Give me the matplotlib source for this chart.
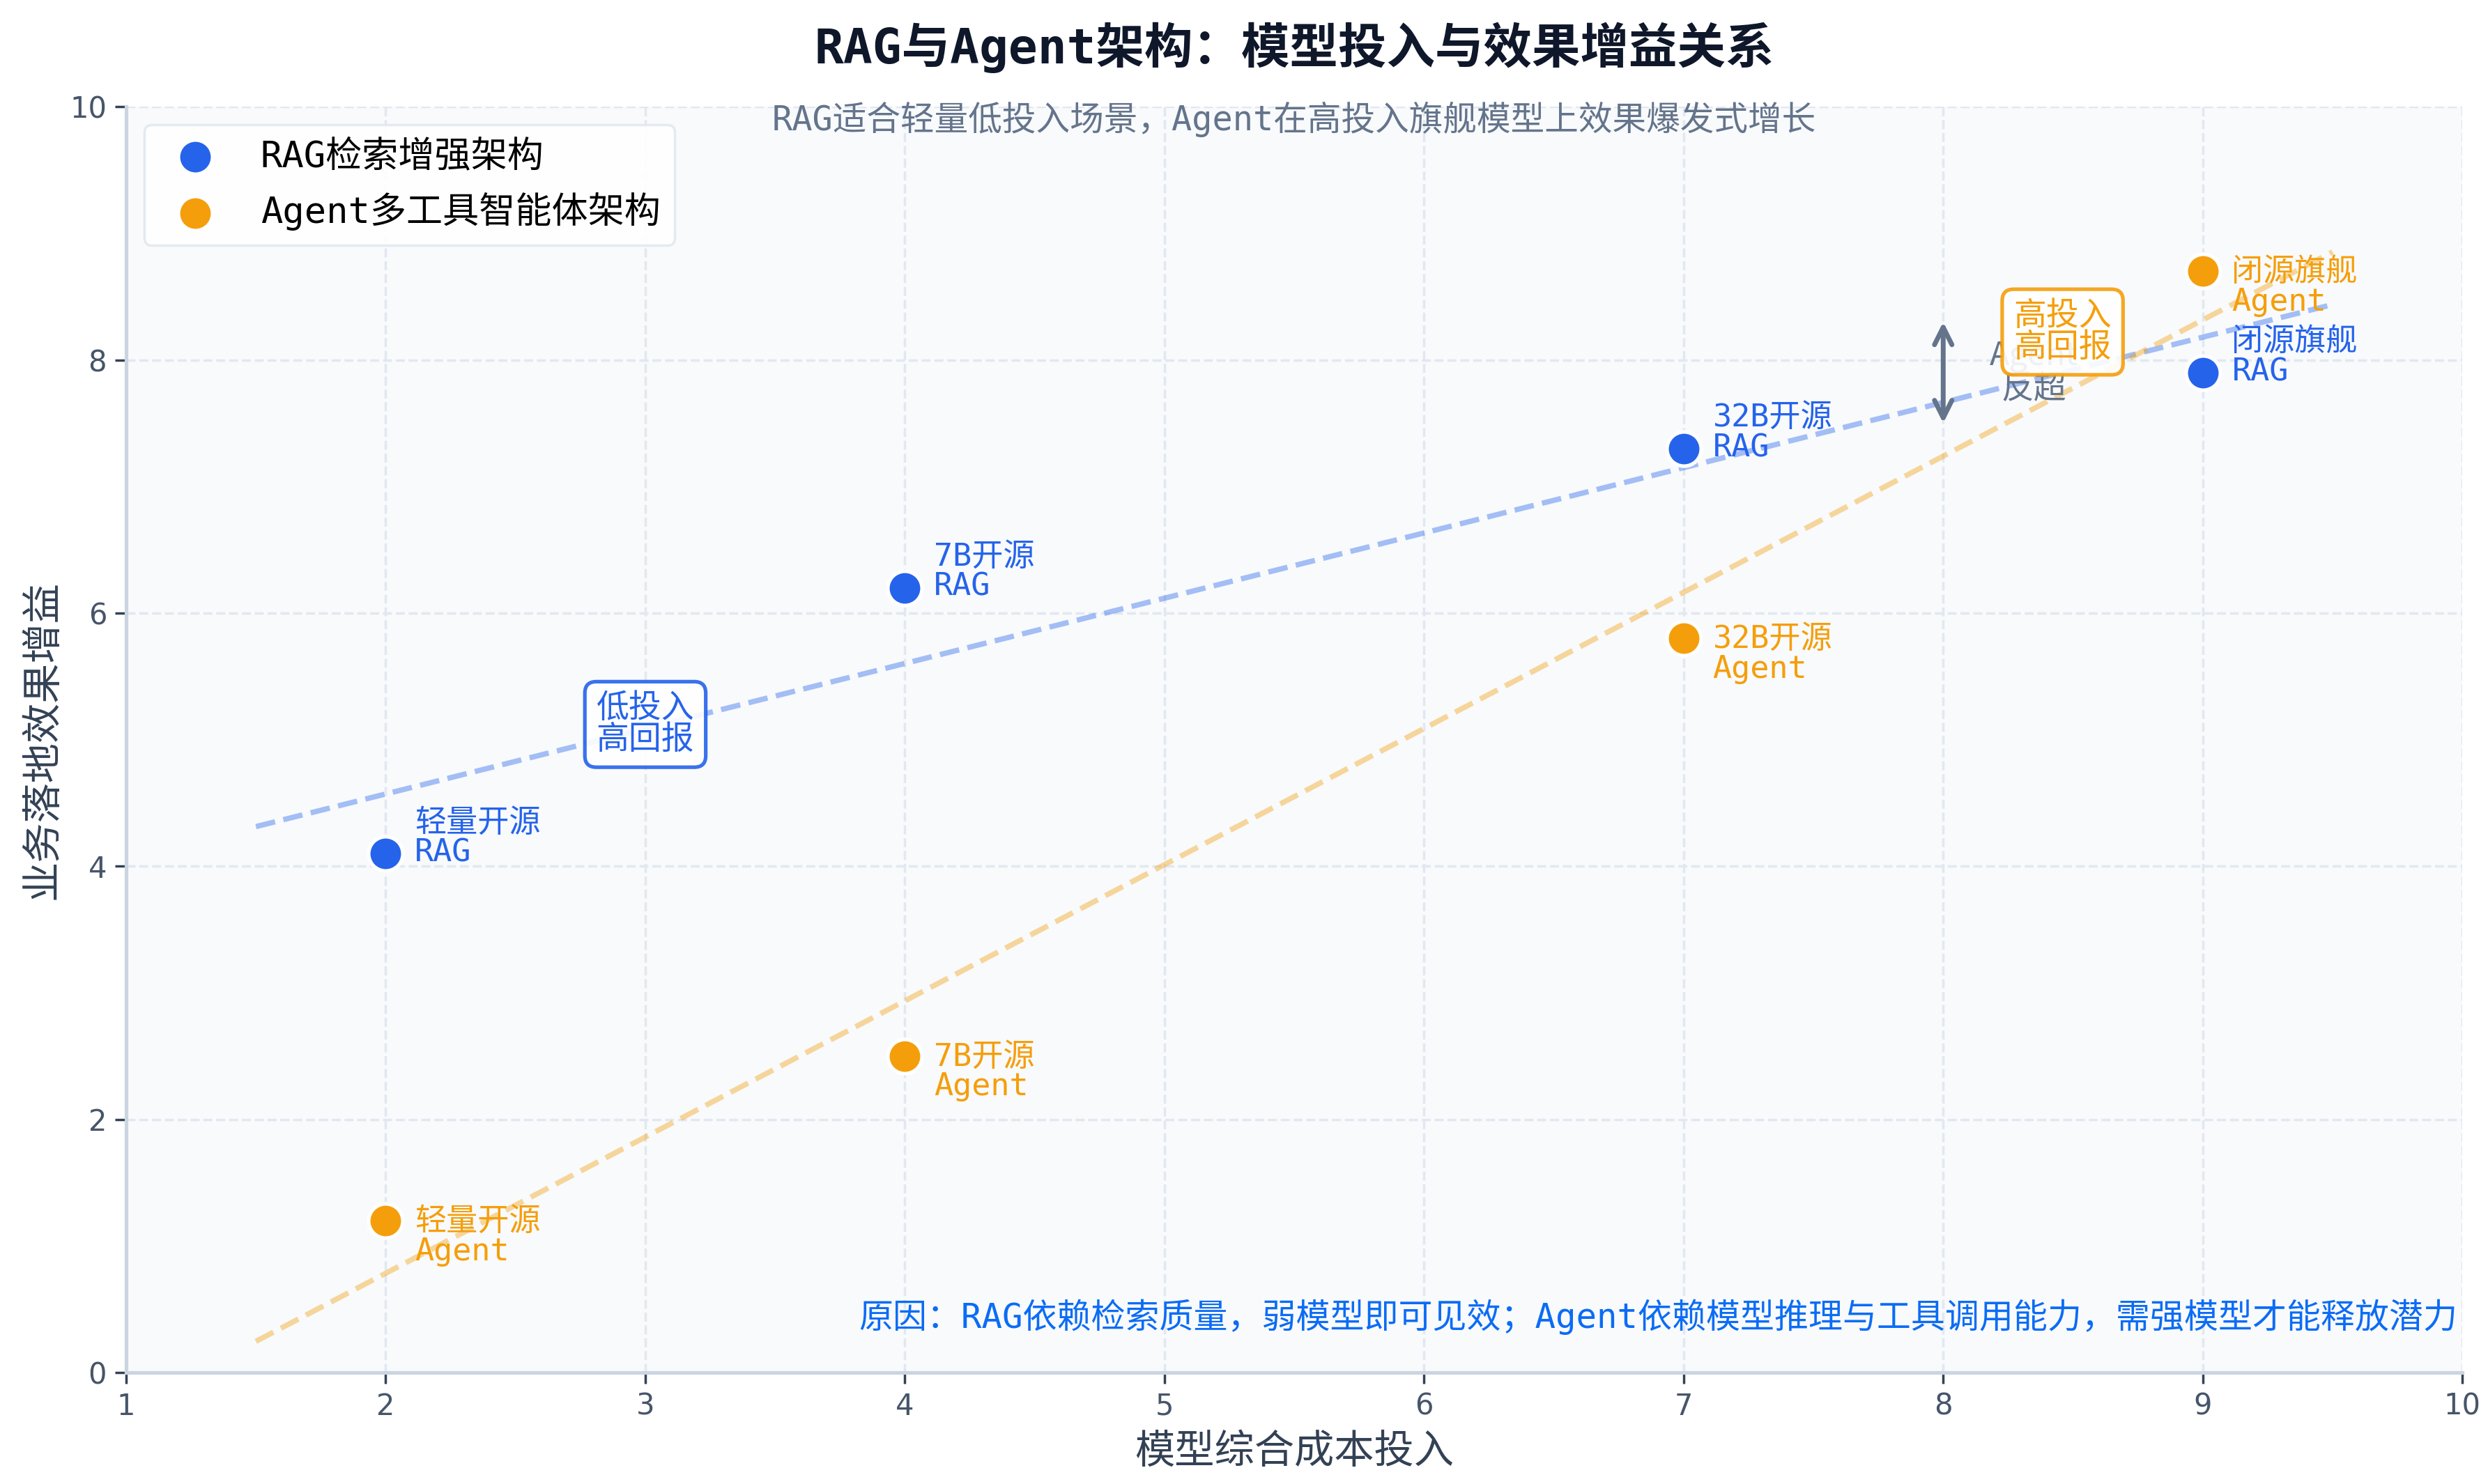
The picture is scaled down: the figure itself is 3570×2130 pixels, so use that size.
import matplotlib
matplotlib.use("Agg")
import matplotlib.pyplot as plt
import numpy as np

plt.rcParams['font.family'] = ['DejaVu Sans Mono', 'Noto Sans CJK SC', 'DejaVu Sans']
plt.rcParams['axes.unicode_minus'] = False

# ---------------- data ----------------
cost = [2, 4, 7, 9]
model_names = ["轻量开源", "7B开源", "32B开源", "闭源旗舰"]
rag_gain = [4.1, 6.2, 7.3, 7.9]
agent_gain = [1.2, 2.5, 5.8, 8.7]
series_names = ["RAG检索增强架构", "Agent多工具智能体架构"]
series_short = ["RAG", "Agent"]
x_ticks = [1, 2, 3, 4, 5, 6, 7, 8, 9, 10]
y_ticks = [0, 2, 4, 6, 8, 10]
trend_range = [1.5, 9.5]

title = "RAG与Agent架构：模型投入与效果增益关系"
subtitle = "RAG适合轻量低投入场景，Agent在高投入旗舰模型上效果爆发式增长"
footnote = "原因：RAG依赖检索质量，弱模型即可见效；Agent依赖模型推理与工具调用能力，需强模型才能释放潜力"
xlabel = "模型综合成本投入"
ylabel = "业务落地效果增益"

BLUE = "#2563EB"
ORANGE = "#F59E0B"
SLATE = "#64748B"
DARK = "#334155"

fig = plt.figure(figsize=(14.28, 8.52), dpi=250)
ax = fig.add_axes([0.0507, 0.0751, 0.939, 0.853])
ax.set_facecolor("#F8FAFC")

# trend lines
xs = np.linspace(trend_range[0], trend_range[1], 50)
for vals, col in [(rag_gain, BLUE), (agent_gain, ORANGE)]:
    k, b = np.polyfit(cost, vals, 1)
    ax.plot(xs, k * xs + b, ls="--", lw=2.2, color=col, alpha=0.4, zorder=2)

# points
for vals, col, nm, short, dy in [(rag_gain, BLUE, series_names[0], series_short[0], 6.5),
                                 (agent_gain, ORANGE, series_names[1], series_short[1], -6.5)]:
    ax.scatter(cost, vals, s=200, color=col, edgecolor="white", linewidth=1.5,
               zorder=4, label=nm)
    for x, y, m in zip(cost, vals, model_names):
        ax.annotate(f"{m}\n{short}", (x, y), xytext=(12, dy), textcoords="offset points",
                    ha="left", va="center", fontsize=13, color=col, linespacing=1.0,
                    zorder=5)

# annotations
ax.text(3.0, 5.12, "低投入\n高回报", ha="center", va="center", fontsize=13.5,
        color=BLUE, linespacing=1.0, zorder=6,
        bbox=dict(boxstyle="round,pad=0.35", fc="white", ec=BLUE, lw=1.5, alpha=0.9))
ax.annotate("", xy=(8, 8.3), xytext=(8, 7.5),
            arrowprops=dict(arrowstyle="<->", color=SLATE, lw=2, mutation_scale=18,
                            shrinkA=0, shrinkB=0), zorder=5)
ax.text(8.35, 7.9, "Agent\n反超", ha="center", va="center", fontsize=13.5,
        color=SLATE, linespacing=1.0, zorder=5, family=['Noto Sans CJK SC'])
ax.text(8.46, 8.22, "高投入\n高回报", ha="center", va="center", fontsize=13.5,
        color=ORANGE, linespacing=1.0, zorder=6,
        bbox=dict(boxstyle="round,pad=0.35", fc="white", ec=ORANGE, lw=1.5, alpha=0.9))

ax.text(0.5, 0.99, subtitle, transform=ax.transAxes, ha="center", va="center",
        fontsize=14, color=SLATE)
ax.text(0.998, 0.044, footnote, transform=ax.transAxes, ha="right", va="center",
        fontsize=14.1, color="#0B6CF5")

ax.set_xlim(1, 10)
ax.set_ylim(0, 10)
ax.set_xticks(x_ticks)
ax.set_yticks(y_ticks)
ax.tick_params(colors=DARK, labelcolor="#475569", labelsize=12, length=4.5, width=1)
for lab in ax.get_xticklabels() + ax.get_yticklabels():
    lab.set_family("DejaVu Sans")
ax.grid(True, ls="--", color="#E2E8F0", lw=1)
ax.set_axisbelow(True)
for s in ["top", "right"]:
    ax.spines[s].set_visible(False)
for s in ["left", "bottom"]:
    ax.spines[s].set_color("#CBD5E1")
    ax.spines[s].set_linewidth(1.5)

ax.set_xlabel(xlabel, fontsize=16.5, color=DARK, labelpad=5)
ax.set_ylabel(ylabel, fontsize=16.5, color=DARK, labelpad=3)
ax.set_title(title, fontsize=20, color="#0F172A", fontweight="bold", pad=18)

leg = ax.legend(loc="upper left", fontsize=15, frameon=True, fancybox=True,
                edgecolor="#E2E8F0", facecolor="white", framealpha=0.9)

fig.savefig("out.png", dpi=250)
